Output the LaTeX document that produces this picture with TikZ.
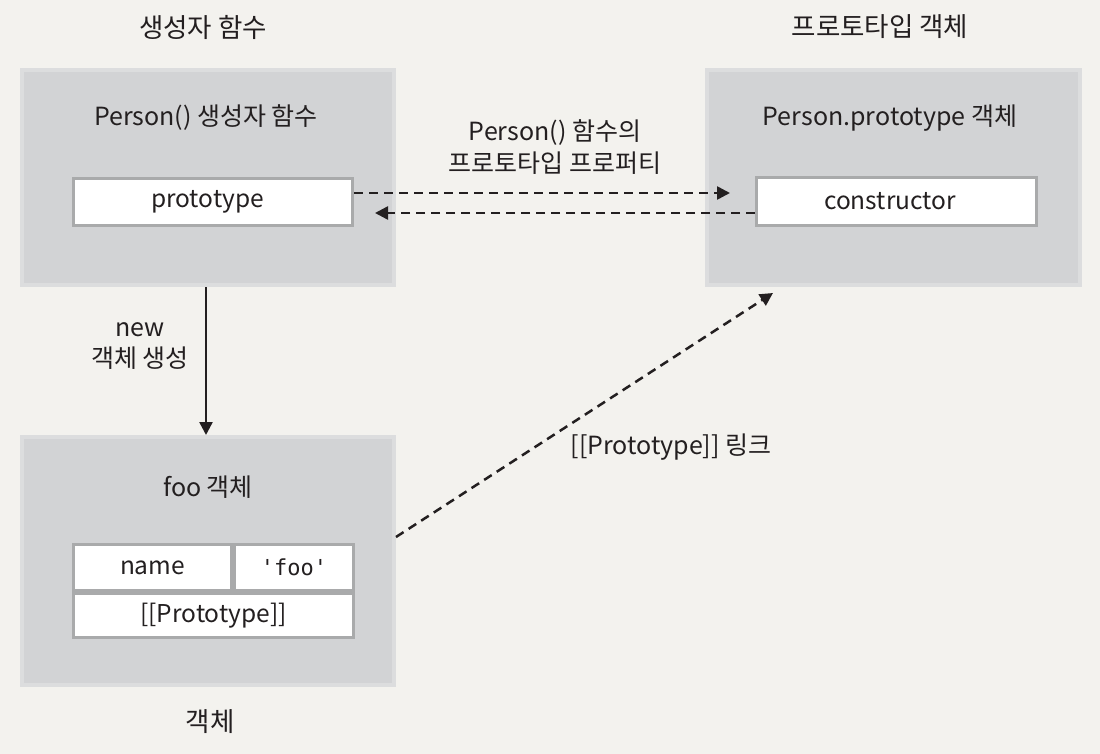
\documentclass[tikz,border=0pt]{standalone}
\usepackage{fontspec}
\setmainfont{Noto Sans CJK KR}
\setmonofont{DejaVu Sans Mono}
\usetikzlibrary{arrows.meta}
\definecolor{bgc}{HTML}{F3F2EE}
\definecolor{boxfill}{HTML}{D2D3D5}
\definecolor{boxedge}{HTML}{DCDDDE}
\definecolor{celledge}{HTML}{A9AAAB}
\definecolor{ink}{HTML}{231F20}
\tikzset{
  outerbox/.style={draw=boxedge, line width=4pt, fill=boxfill, inner sep=0pt},
  cellbox/.style={draw=celledge, line width=3pt, fill=white, inner sep=0pt, text=ink, font=\fontsize{24.5}{28}\selectfont},
  lbl/.style={text=ink, font=\fontsize{25}{28}\selectfont, inner sep=0pt, align=center},
  klbl/.style={lbl, font=\fontsize{26.5}{30}\selectfont},
  dasharrow/.style={draw=ink, line width=2.5pt, dash pattern=on 9pt off 6pt, -{Triangle[length=13pt,width=13pt]}},
  solidarrow/.style={draw=ink, line width=2.5pt, -{Triangle[length=13pt,width=13pt]}}
}
\begin{document}
\begin{tikzpicture}[x=1pt,y=-1pt]
\useasboundingbox (0,0) rectangle (1100,754);
\fill[bgc] (0,0) rectangle (1100,754);
% outer boxes
\node[outerbox, minimum width=372pt, minimum height=215pt] (pfun) at (208,177.5) {};
\node[outerbox, minimum width=373pt, minimum height=215pt] (pobj) at (893.5,177.5) {};
\node[outerbox, minimum width=372pt, minimum height=248pt] (foo) at (208,561) {};
% inner cells
\node[cellbox, minimum width=279pt, minimum height=47pt] (proto) at (213,202) {\hspace*{-11pt}prototype};
\node[cellbox, minimum width=280pt, minimum height=48pt] (cons) at (896.5,201.5) {\hspace*{-13pt}constructor};
\node[cellbox, minimum width=158pt, minimum height=46pt] (namecell) at (152.5,567.5) {name};
\node[cellbox, minimum width=119pt, minimum height=46pt, font=\ttfamily\fontsize{22}{26}\selectfont] (foocell) at (294,567.5) {'foo'};
\node[cellbox, minimum width=280pt, minimum height=44pt] (protocell) at (213.5,615.5) {[[Prototype]]};
% titles
\node[klbl] (t1) at (203,27) {생성자 함수};
\node[klbl] (t2) at (880,27) {프로토타입 객체};
\node[klbl] (t3) at (210,722) {객체};
\node[lbl] (h1) at (206,118) {Person() 생성자 함수};
\node[lbl] (h2) at (890,118) {Person.prototype 객체};
\node[lbl] (h3) at (208,487) {foo 객체};
\node[lbl, font=\fontsize{25}{32}\selectfont] (plbl) at (555,147) {Person() 함수의\\프로토타입 프로퍼티};
\node[lbl, font=\fontsize{25}{31}\selectfont] (nlbl) at (140,346.5) {new\\객체 생성};
\node[lbl] (llbl) at (671,447) {[[Prototype]] 링크};
% connectors
\draw[dasharrow, shorten >=25pt] ([yshift=9pt]proto.east) -- ([yshift=9pt]proto.east -| cons.west);
\draw[dasharrow, shorten >=21pt] ([yshift=-11.5pt]cons.west) -- ([yshift=-11.5pt]cons.west -| proto.east);
\draw[solidarrow] ([xshift=-2pt]pfun.south) -- ([xshift=-2pt]foo.north);
\coordinate (d1) at ([yshift=24pt]foo.east);
\coordinate (d2) at ([xshift=68pt,yshift=-6pt]pobj.south west);
\draw[dasharrow] (d1) -- (d2);
\end{tikzpicture}
\end{document}
